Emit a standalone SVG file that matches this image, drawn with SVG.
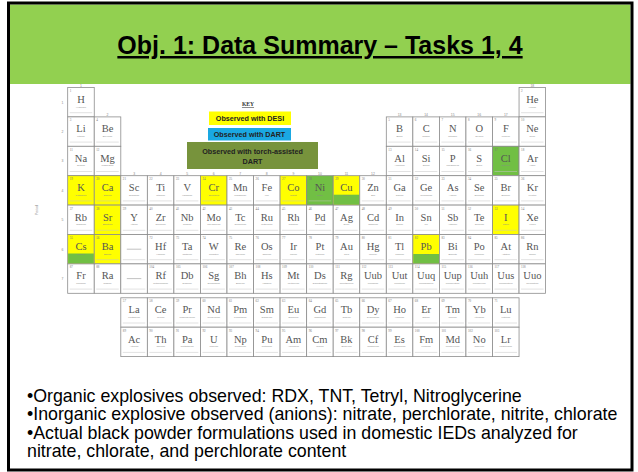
<svg xmlns="http://www.w3.org/2000/svg" xmlns:xlink="http://www.w3.org/1999/xlink" width="638" height="472" viewBox="0 0 638 472">
  <style>
    .w{fill:#fff}
    .y{fill:#ffff00}
    .g{fill:#71bf44}
    .gf{fill:#71bf44}
    .n{font:3.2px "Liberation Serif",serif;fill:#777}
    .s{font:10.5px "Liberation Serif",serif;fill:#555;text-anchor:middle}
    .nm{font:2.3px "Liberation Sans",sans-serif;fill:#8a8a8a;text-anchor:middle}
    .lab{font:3.4px "Liberation Sans",sans-serif;fill:#888;text-anchor:middle}
    .title{font:bold 25px "Liberation Sans",Arial,sans-serif;fill:#000;text-anchor:middle;text-decoration:underline}
    .t{font:17.8px "Liberation Sans",Arial,sans-serif;fill:#000}
    .k{font:bold 7.2px "Liberation Sans",Arial,sans-serif;fill:#222;text-anchor:middle}
    .kh{font:bold 5.6px "Liberation Serif",serif;fill:#333;text-anchor:middle;text-decoration:underline}
  </style>
  <defs>
    <!-- one periodic-table cell: frame plus the faint data rule near the bottom -->
    <g id="cell">
      <rect width="26.55" height="29.4" stroke="#8c8c8c" stroke-width="0.8"/>
      <path d="M2 25.2h22.5" stroke="#c4c4c4" stroke-width="0.5" fill="none"/>
    </g>
  </defs>

  <!-- slide frame and title band -->
  <rect x="0" y="0" width="638" height="472" fill="#fff"/>
  <g id="title">
    <rect x="10" y="4.5" width="620.5" height="79.5" fill="#92d050"/>
    <text class="title" x="320" y="54">Obj. 1: Data Summary – Tasks 1, 4</text>
  </g>

  <!-- key -->
  <g id="key">
    <text class="kh" x="248" y="106">KEY</text>
    <rect x="209" y="111.5" width="82" height="13.5" fill="#ffff00"/>
    <text class="k" x="250" y="121">Observed with DESI</text>
    <rect x="208" y="128" width="83" height="12.5" fill="#1aa8e2"/>
    <text class="k" x="249.5" y="137">Observed with DART</text>
    <rect x="187" y="142" width="131" height="27" fill="#77933c"/>
    <text class="k" x="252.5" y="153.5">Observed with torch-assisted</text>
    <text class="k" x="252.5" y="163.5">DART</text>
  </g>

  <!-- axis labels -->
  <g id="axis">
    <text class="lab" transform="translate(38,210) rotate(-90)">Period</text>
    <text class="lab" x="62.5" y="103.5">1</text>
    <text class="lab" x="62.5" y="132.9">2</text>
    <text class="lab" x="62.5" y="162.3">3</text>
    <text class="lab" x="62.5" y="191.7">4</text>
    <text class="lab" x="62.5" y="221.1">5</text>
    <text class="lab" x="62.5" y="250.5">6</text>
    <text class="lab" x="62.5" y="279.9">7</text>
    <text class="lab" x="81" y="86.5">1</text>
    <text class="lab" x="107.5" y="115.9">2</text>
    <text class="lab" x="134.1" y="174.7">3</text>
    <text class="lab" x="160.6" y="174.7">4</text>
    <text class="lab" x="187.2" y="174.7">5</text>
    <text class="lab" x="213.7" y="174.7">6</text>
    <text class="lab" x="240.3" y="174.7">7</text>
    <text class="lab" x="266.8" y="174.7">8</text>
    <text class="lab" x="293.4" y="174.7">9</text>
    <text class="lab" x="319.9" y="174.7">10</text>
    <text class="lab" x="346.5" y="174.7">11</text>
    <text class="lab" x="373" y="174.7">12</text>
    <text class="lab" x="399.6" y="115.9">13</text>
    <text class="lab" x="426.1" y="115.9">14</text>
    <text class="lab" x="452.7" y="115.9">15</text>
    <text class="lab" x="479.2" y="115.9">16</text>
    <text class="lab" x="505.8" y="115.9">17</text>
    <text class="lab" x="532.3" y="86.5">18</text>
  </g>

  <!-- main table -->
  <g id="table">
    <!-- period 1 -->
    <g id="el-H" class="w" transform="translate(67.7,87.5)"><use href="#cell"/><text class="n" x="2" y="4.6">1</text><text class="s" x="13.3" y="15.5">H</text><text class="nm" x="13.3" y="20">Hydrogen</text></g>
    <g id="el-He" class="w" transform="translate(519.05,87.5)"><use href="#cell"/><text class="n" x="2" y="4.6">2</text><text class="s" x="13.3" y="15.5">He</text><text class="nm" x="13.3" y="20">Helium</text></g>
    <!-- period 2 -->
    <g id="el-Li" class="w" transform="translate(67.7,116.9)"><use href="#cell"/><text class="n" x="2" y="4.6">3</text><text class="s" x="13.3" y="15.5">Li</text><text class="nm" x="13.3" y="20">Lithium</text></g>
    <g id="el-Be" class="w" transform="translate(94.25,116.9)"><use href="#cell"/><text class="n" x="2" y="4.6">4</text><text class="s" x="13.3" y="15.5">Be</text><text class="nm" x="13.3" y="20">Beryllium</text></g>
    <g id="el-B" class="w" transform="translate(386.3,116.9)"><use href="#cell"/><text class="n" x="2" y="4.6">5</text><text class="s" x="13.3" y="15.5">B</text><text class="nm" x="13.3" y="20">Boron</text></g>
    <g id="el-C" class="w" transform="translate(412.85,116.9)"><use href="#cell"/><text class="n" x="2" y="4.6">6</text><text class="s" x="13.3" y="15.5">C</text><text class="nm" x="13.3" y="20">Carbon</text></g>
    <g id="el-N" class="w" transform="translate(439.4,116.9)"><use href="#cell"/><text class="n" x="2" y="4.6">7</text><text class="s" x="13.3" y="15.5">N</text><text class="nm" x="13.3" y="20">Nitrogen</text></g>
    <g id="el-O" class="w" transform="translate(465.95,116.9)"><use href="#cell"/><text class="n" x="2" y="4.6">8</text><text class="s" x="13.3" y="15.5">O</text><text class="nm" x="13.3" y="20">Oxygen</text></g>
    <g id="el-F" class="w" transform="translate(492.5,116.9)"><use href="#cell"/><text class="n" x="2" y="4.6">9</text><text class="s" x="13.3" y="15.5">F</text><text class="nm" x="13.3" y="20">Fluorine</text></g>
    <g id="el-Ne" class="w" transform="translate(519.05,116.9)"><use href="#cell"/><text class="n" x="2" y="4.6">10</text><text class="s" x="13.3" y="15.5">Ne</text><text class="nm" x="13.3" y="20">Neon</text></g>
    <!-- period 3 -->
    <g id="el-Na" class="w" transform="translate(67.7,146.3)"><use href="#cell"/><text class="n" x="2" y="4.6">11</text><text class="s" x="13.3" y="15.5">Na</text><text class="nm" x="13.3" y="20">Sodium</text></g>
    <g id="el-Mg" class="w" transform="translate(94.25,146.3)"><use href="#cell"/><text class="n" x="2" y="4.6">12</text><text class="s" x="13.3" y="15.5">Mg</text><text class="nm" x="13.3" y="20">Magnesium</text></g>
    <g id="el-Al" class="w" transform="translate(386.3,146.3)"><use href="#cell"/><text class="n" x="2" y="4.6">13</text><text class="s" x="13.3" y="15.5">Al</text><text class="nm" x="13.3" y="20">Aluminum</text></g>
    <g id="el-Si" class="w" transform="translate(412.85,146.3)"><use href="#cell"/><text class="n" x="2" y="4.6">14</text><text class="s" x="13.3" y="15.5">Si</text><text class="nm" x="13.3" y="20">Silicon</text></g>
    <g id="el-P" class="w" transform="translate(439.4,146.3)"><use href="#cell"/><text class="n" x="2" y="4.6">15</text><text class="s" x="13.3" y="15.5">P</text><text class="nm" x="13.3" y="20">Phosphorus</text></g>
    <g id="el-S" class="w" transform="translate(465.95,146.3)"><use href="#cell"/><text class="n" x="2" y="4.6">16</text><text class="s" x="13.3" y="15.5">S</text><text class="nm" x="13.3" y="20">Sulfur</text></g>
    <g id="el-Cl" class="g" transform="translate(492.5,146.3)"><use href="#cell"/><text class="n" x="2" y="4.6">17</text><text class="s" x="13.3" y="15.5">Cl</text><text class="nm" x="13.3" y="20">Chlorine</text></g>
    <g id="el-Ar" class="w" transform="translate(519.05,146.3)"><use href="#cell"/><text class="n" x="2" y="4.6">18</text><text class="s" x="13.3" y="15.5">Ar</text><text class="nm" x="13.3" y="20">Argon</text></g>
    <!-- period 4 -->
    <g id="el-K" class="y" transform="translate(67.7,175.7)"><use href="#cell"/><text class="n" x="2" y="4.6">19</text><text class="s" x="13.3" y="15.5">K</text><text class="nm" x="13.3" y="20">Potassium</text></g>
    <g id="el-Ca" class="y" transform="translate(94.25,175.7)"><use href="#cell"/><text class="n" x="2" y="4.6">20</text><text class="s" x="13.3" y="15.5">Ca</text><text class="nm" x="13.3" y="20">Calcium</text></g>
    <g id="el-Sc" class="w" transform="translate(120.8,175.7)"><use href="#cell"/><text class="n" x="2" y="4.6">21</text><text class="s" x="13.3" y="15.5">Sc</text><text class="nm" x="13.3" y="20">Scandium</text></g>
    <g id="el-Ti" class="w" transform="translate(147.35,175.7)"><use href="#cell"/><text class="n" x="2" y="4.6">22</text><text class="s" x="13.3" y="15.5">Ti</text><text class="nm" x="13.3" y="20">Titanium</text></g>
    <g id="el-V" class="w" transform="translate(173.9,175.7)"><use href="#cell"/><text class="n" x="2" y="4.6">23</text><text class="s" x="13.3" y="15.5">V</text><text class="nm" x="13.3" y="20">Vanadium</text></g>
    <g id="el-Cr" class="y" transform="translate(200.45,175.7)"><use href="#cell"/><text class="n" x="2" y="4.6">24</text><text class="s" x="13.3" y="15.5">Cr</text><text class="nm" x="13.3" y="20">Chromium</text></g>
    <g id="el-Mn" class="w" transform="translate(227,175.7)"><use href="#cell"/><text class="n" x="2" y="4.6">25</text><text class="s" x="13.3" y="15.5">Mn</text><text class="nm" x="13.3" y="20">Manganese</text></g>
    <g id="el-Fe" class="w" transform="translate(253.55,175.7)"><use href="#cell"/><text class="n" x="2" y="4.6">26</text><text class="s" x="13.3" y="15.5">Fe</text><text class="nm" x="13.3" y="20">Iron</text></g>
    <g id="el-Co" class="y" transform="translate(280.1,175.7)"><use href="#cell"/><text class="n" x="2" y="4.6">27</text><text class="s" x="13.3" y="15.5">Co</text><text class="nm" x="13.3" y="20">Cobalt</text></g>
    <g id="el-Ni" class="g" transform="translate(306.65,175.7)"><use href="#cell"/><text class="n" x="2" y="4.6">28</text><text class="s" x="13.3" y="15.5">Ni</text><text class="nm" x="13.3" y="20">Nickel</text></g>
    <g id="el-Cu" class="y" transform="translate(333.2,175.7)"><use href="#cell"/><rect class="gf" x="0.4" y="19" width="25.75" height="10"/><text class="n" x="2" y="4.6">29</text><text class="s" x="13.3" y="15.5">Cu</text><text class="nm" x="13.3" y="20">Copper</text></g>
    <g id="el-Zn" class="w" transform="translate(359.75,175.7)"><use href="#cell"/><text class="n" x="2" y="4.6">30</text><text class="s" x="13.3" y="15.5">Zn</text><text class="nm" x="13.3" y="20">Zinc</text></g>
    <g id="el-Ga" class="w" transform="translate(386.3,175.7)"><use href="#cell"/><text class="n" x="2" y="4.6">31</text><text class="s" x="13.3" y="15.5">Ga</text><text class="nm" x="13.3" y="20">Gallium</text></g>
    <g id="el-Ge" class="w" transform="translate(412.85,175.7)"><use href="#cell"/><text class="n" x="2" y="4.6">32</text><text class="s" x="13.3" y="15.5">Ge</text><text class="nm" x="13.3" y="20">Germanium</text></g>
    <g id="el-As" class="w" transform="translate(439.4,175.7)"><use href="#cell"/><text class="n" x="2" y="4.6">33</text><text class="s" x="13.3" y="15.5">As</text><text class="nm" x="13.3" y="20">Arsenic</text></g>
    <g id="el-Se" class="w" transform="translate(465.95,175.7)"><use href="#cell"/><text class="n" x="2" y="4.6">34</text><text class="s" x="13.3" y="15.5">Se</text><text class="nm" x="13.3" y="20">Selenium</text></g>
    <g id="el-Br" class="w" transform="translate(492.5,175.7)"><use href="#cell"/><text class="n" x="2" y="4.6">35</text><text class="s" x="13.3" y="15.5">Br</text><text class="nm" x="13.3" y="20">Bromine</text></g>
    <g id="el-Kr" class="w" transform="translate(519.05,175.7)"><use href="#cell"/><text class="n" x="2" y="4.6">36</text><text class="s" x="13.3" y="15.5">Kr</text><text class="nm" x="13.3" y="20">Krypton</text></g>
    <!-- period 5 -->
    <g id="el-Rb" class="w" transform="translate(67.7,205.1)"><use href="#cell"/><text class="n" x="2" y="4.6">37</text><text class="s" x="13.3" y="15.5">Rb</text><text class="nm" x="13.3" y="20">Rubidium</text></g>
    <g id="el-Sr" class="y" transform="translate(94.25,205.1)"><use href="#cell"/><text class="n" x="2" y="4.6">38</text><text class="s" x="13.3" y="15.5">Sr</text><text class="nm" x="13.3" y="20">Strontium</text></g>
    <g id="el-Y" class="w" transform="translate(120.8,205.1)"><use href="#cell"/><text class="n" x="2" y="4.6">39</text><text class="s" x="13.3" y="15.5">Y</text><text class="nm" x="13.3" y="20">Yttrium</text></g>
    <g id="el-Zr" class="w" transform="translate(147.35,205.1)"><use href="#cell"/><text class="n" x="2" y="4.6">40</text><text class="s" x="13.3" y="15.5">Zr</text><text class="nm" x="13.3" y="20">Zirconium</text></g>
    <g id="el-Nb" class="w" transform="translate(173.9,205.1)"><use href="#cell"/><text class="n" x="2" y="4.6">41</text><text class="s" x="13.3" y="15.5">Nb</text><text class="nm" x="13.3" y="20">Niobium</text></g>
    <g id="el-Mo" class="w" transform="translate(200.45,205.1)"><use href="#cell"/><text class="n" x="2" y="4.6">42</text><text class="s" x="13.3" y="15.5">Mo</text><text class="nm" x="13.3" y="20">Molybdenum</text></g>
    <g id="el-Tc" class="w" transform="translate(227,205.1)"><use href="#cell"/><text class="n" x="2" y="4.6">43</text><text class="s" x="13.3" y="15.5">Tc</text><text class="nm" x="13.3" y="20">Technetium</text></g>
    <g id="el-Ru" class="w" transform="translate(253.55,205.1)"><use href="#cell"/><text class="n" x="2" y="4.6">44</text><text class="s" x="13.3" y="15.5">Ru</text><text class="nm" x="13.3" y="20">Ruthenium</text></g>
    <g id="el-Rh" class="w" transform="translate(280.1,205.1)"><use href="#cell"/><text class="n" x="2" y="4.6">45</text><text class="s" x="13.3" y="15.5">Rh</text><text class="nm" x="13.3" y="20">Rhodium</text></g>
    <g id="el-Pd" class="w" transform="translate(306.65,205.1)"><use href="#cell"/><text class="n" x="2" y="4.6">46</text><text class="s" x="13.3" y="15.5">Pd</text><text class="nm" x="13.3" y="20">Palladium</text></g>
    <g id="el-Ag" class="w" transform="translate(333.2,205.1)"><use href="#cell"/><text class="n" x="2" y="4.6">47</text><text class="s" x="13.3" y="15.5">Ag</text><text class="nm" x="13.3" y="20">Silver</text></g>
    <g id="el-Cd" class="w" transform="translate(359.75,205.1)"><use href="#cell"/><text class="n" x="2" y="4.6">48</text><text class="s" x="13.3" y="15.5">Cd</text><text class="nm" x="13.3" y="20">Cadmium</text></g>
    <g id="el-In" class="w" transform="translate(386.3,205.1)"><use href="#cell"/><text class="n" x="2" y="4.6">49</text><text class="s" x="13.3" y="15.5">In</text><text class="nm" x="13.3" y="20">Indium</text></g>
    <g id="el-Sn" class="w" transform="translate(412.85,205.1)"><use href="#cell"/><text class="n" x="2" y="4.6">50</text><text class="s" x="13.3" y="15.5">Sn</text><text class="nm" x="13.3" y="20">Tin</text></g>
    <g id="el-Sb" class="w" transform="translate(439.4,205.1)"><use href="#cell"/><text class="n" x="2" y="4.6">51</text><text class="s" x="13.3" y="15.5">Sb</text><text class="nm" x="13.3" y="20">Antimony</text></g>
    <g id="el-Te" class="w" transform="translate(465.95,205.1)"><use href="#cell"/><text class="n" x="2" y="4.6">52</text><text class="s" x="13.3" y="15.5">Te</text><text class="nm" x="13.3" y="20">Tellurium</text></g>
    <g id="el-I" class="y" transform="translate(492.5,205.1)"><use href="#cell"/><text class="n" x="2" y="4.6">53</text><text class="s" x="13.3" y="15.5">I</text><text class="nm" x="13.3" y="20">Iodine</text></g>
    <g id="el-Xe" class="w" transform="translate(519.05,205.1)"><use href="#cell"/><text class="n" x="2" y="4.6">54</text><text class="s" x="13.3" y="15.5">Xe</text><text class="nm" x="13.3" y="20">Xenon</text></g>
    <!-- period 6 -->
    <g id="el-Cs" class="y" transform="translate(67.7,234.5)"><use href="#cell"/><rect class="gf" x="0.4" y="19" width="25.75" height="10"/><text class="n" x="2" y="4.6">55</text><text class="s" x="13.3" y="15.5">Cs</text><text class="nm" x="13.3" y="20">Cesium</text></g>
    <g id="el-Ba" class="y" transform="translate(94.25,234.5)"><use href="#cell"/><text class="n" x="2" y="4.6">56</text><text class="s" x="13.3" y="15.5">Ba</text><text class="nm" x="13.3" y="20">Barium</text></g>
    <g id="gap-6" class="w" transform="translate(120.8,234.5)"><use href="#cell"/><path d="M6 14.7h14.5" stroke="#999" stroke-width="0.6"/></g>
    <g id="el-Hf" class="w" transform="translate(147.35,234.5)"><use href="#cell"/><text class="n" x="2" y="4.6">72</text><text class="s" x="13.3" y="15.5">Hf</text><text class="nm" x="13.3" y="20">Hafnium</text></g>
    <g id="el-Ta" class="w" transform="translate(173.9,234.5)"><use href="#cell"/><text class="n" x="2" y="4.6">73</text><text class="s" x="13.3" y="15.5">Ta</text><text class="nm" x="13.3" y="20">Tantalum</text></g>
    <g id="el-W" class="w" transform="translate(200.45,234.5)"><use href="#cell"/><text class="n" x="2" y="4.6">74</text><text class="s" x="13.3" y="15.5">W</text><text class="nm" x="13.3" y="20">Tungsten</text></g>
    <g id="el-Re" class="w" transform="translate(227,234.5)"><use href="#cell"/><text class="n" x="2" y="4.6">75</text><text class="s" x="13.3" y="15.5">Re</text><text class="nm" x="13.3" y="20">Rhenium</text></g>
    <g id="el-Os" class="w" transform="translate(253.55,234.5)"><use href="#cell"/><text class="n" x="2" y="4.6">76</text><text class="s" x="13.3" y="15.5">Os</text><text class="nm" x="13.3" y="20">Osmium</text></g>
    <g id="el-Ir" class="w" transform="translate(280.1,234.5)"><use href="#cell"/><text class="n" x="2" y="4.6">77</text><text class="s" x="13.3" y="15.5">Ir</text><text class="nm" x="13.3" y="20">Iridium</text></g>
    <g id="el-Pt" class="w" transform="translate(306.65,234.5)"><use href="#cell"/><text class="n" x="2" y="4.6">78</text><text class="s" x="13.3" y="15.5">Pt</text><text class="nm" x="13.3" y="20">Platinum</text></g>
    <g id="el-Au" class="w" transform="translate(333.2,234.5)"><use href="#cell"/><text class="n" x="2" y="4.6">79</text><text class="s" x="13.3" y="15.5">Au</text><text class="nm" x="13.3" y="20">Gold</text></g>
    <g id="el-Hg" class="w" transform="translate(359.75,234.5)"><use href="#cell"/><text class="n" x="2" y="4.6">80</text><text class="s" x="13.3" y="15.5">Hg</text><text class="nm" x="13.3" y="20">Mercury</text></g>
    <g id="el-Tl" class="w" transform="translate(386.3,234.5)"><use href="#cell"/><text class="n" x="2" y="4.6">81</text><text class="s" x="13.3" y="15.5">Tl</text><text class="nm" x="13.3" y="20">Thallium</text></g>
    <g id="el-Pb" class="y" transform="translate(412.85,234.5)"><use href="#cell"/><rect class="gf" x="0.4" y="19.5" width="25.75" height="9.5"/><text class="n" x="2" y="4.6">82</text><text class="s" x="13.3" y="15.5">Pb</text><text class="nm" x="13.3" y="20">Lead</text></g>
    <g id="el-Bi" class="w" transform="translate(439.4,234.5)"><use href="#cell"/><text class="n" x="2" y="4.6">83</text><text class="s" x="13.3" y="15.5">Bi</text><text class="nm" x="13.3" y="20">Bismuth</text></g>
    <g id="el-Po" class="w" transform="translate(465.95,234.5)"><use href="#cell"/><text class="n" x="2" y="4.6">84</text><text class="s" x="13.3" y="15.5">Po</text><text class="nm" x="13.3" y="20">Polonium</text></g>
    <g id="el-At" class="w" transform="translate(492.5,234.5)"><use href="#cell"/><text class="n" x="2" y="4.6">85</text><text class="s" x="13.3" y="15.5">At</text><text class="nm" x="13.3" y="20">Astatine</text></g>
    <g id="el-Rn" class="w" transform="translate(519.05,234.5)"><use href="#cell"/><text class="n" x="2" y="4.6">86</text><text class="s" x="13.3" y="15.5">Rn</text><text class="nm" x="13.3" y="20">Radon</text></g>
    <!-- period 7 -->
    <g id="el-Fr" class="w" transform="translate(67.7,263.9)"><use href="#cell"/><text class="n" x="2" y="4.6">87</text><text class="s" x="13.3" y="15.5">Fr</text><text class="nm" x="13.3" y="20">Francium</text></g>
    <g id="el-Ra" class="w" transform="translate(94.25,263.9)"><use href="#cell"/><text class="n" x="2" y="4.6">88</text><text class="s" x="13.3" y="15.5">Ra</text><text class="nm" x="13.3" y="20">Radium</text></g>
    <g id="gap-7" class="w" transform="translate(120.8,263.9)"><use href="#cell"/><path d="M6 14.7h14.5" stroke="#999" stroke-width="0.6"/></g>
    <g id="el-Rf" class="w" transform="translate(147.35,263.9)"><use href="#cell"/><text class="n" x="2" y="4.6">104</text><text class="s" x="13.3" y="15.5">Rf</text><text class="nm" x="13.3" y="20">Rutherfordium</text></g>
    <g id="el-Db" class="w" transform="translate(173.9,263.9)"><use href="#cell"/><text class="n" x="2" y="4.6">105</text><text class="s" x="13.3" y="15.5">Db</text><text class="nm" x="13.3" y="20">Dubnium</text></g>
    <g id="el-Sg" class="w" transform="translate(200.45,263.9)"><use href="#cell"/><text class="n" x="2" y="4.6">106</text><text class="s" x="13.3" y="15.5">Sg</text><text class="nm" x="13.3" y="20">Seaborgium</text></g>
    <g id="el-Bh" class="w" transform="translate(227,263.9)"><use href="#cell"/><text class="n" x="2" y="4.6">107</text><text class="s" x="13.3" y="15.5">Bh</text><text class="nm" x="13.3" y="20">Bohrium</text></g>
    <g id="el-Hs" class="w" transform="translate(253.55,263.9)"><use href="#cell"/><text class="n" x="2" y="4.6">108</text><text class="s" x="13.3" y="15.5">Hs</text><text class="nm" x="13.3" y="20">Hassium</text></g>
    <g id="el-Mt" class="w" transform="translate(280.1,263.9)"><use href="#cell"/><text class="n" x="2" y="4.6">109</text><text class="s" x="13.3" y="15.5">Mt</text><text class="nm" x="13.3" y="20">Meitnerium</text></g>
    <g id="el-Ds" class="w" transform="translate(306.65,263.9)"><use href="#cell"/><text class="n" x="2" y="4.6">110</text><text class="s" x="13.3" y="15.5">Ds</text><text class="nm" x="13.3" y="20">Darmstadtium</text></g>
    <g id="el-Rg" class="w" transform="translate(333.2,263.9)"><use href="#cell"/><text class="n" x="2" y="4.6">111</text><text class="s" x="13.3" y="15.5">Rg</text><text class="nm" x="13.3" y="20">Roentgenium</text></g>
    <g id="el-Uub" class="w" transform="translate(359.75,263.9)"><use href="#cell"/><text class="n" x="2" y="4.6">112</text><text class="s" x="13.3" y="15.5">Uub</text><text class="nm" x="13.3" y="20">Ununbium</text></g>
    <g id="el-Uut" class="w" transform="translate(386.3,263.9)"><use href="#cell"/><text class="n" x="2" y="4.6">113</text><text class="s" x="13.3" y="15.5">Uut</text><text class="nm" x="13.3" y="20">Ununtrium</text></g>
    <g id="el-Uuq" class="w" transform="translate(412.85,263.9)"><use href="#cell"/><text class="n" x="2" y="4.6">114</text><text class="s" x="13.3" y="15.5">Uuq</text><text class="nm" x="13.3" y="20">Ununquadium</text></g>
    <g id="el-Uup" class="w" transform="translate(439.4,263.9)"><use href="#cell"/><text class="n" x="2" y="4.6">115</text><text class="s" x="13.3" y="15.5">Uup</text><text class="nm" x="13.3" y="20">Ununpentium</text></g>
    <g id="el-Uuh" class="w" transform="translate(465.95,263.9)"><use href="#cell"/><text class="n" x="2" y="4.6">116</text><text class="s" x="13.3" y="15.5">Uuh</text><text class="nm" x="13.3" y="20">Ununhexium</text></g>
    <g id="el-Uus" class="w" transform="translate(492.5,263.9)"><use href="#cell"/><text class="n" x="2" y="4.6">117</text><text class="s" x="13.3" y="15.5">Uus</text><text class="nm" x="13.3" y="20">Ununseptium</text></g>
    <g id="el-Uuo" class="w" transform="translate(519.05,263.9)"><use href="#cell"/><text class="n" x="2" y="4.6">118</text><text class="s" x="13.3" y="15.5">Uuo</text><text class="nm" x="13.3" y="20">Ununoctium</text></g>
  </g>

  <!-- lanthanide and actinide rows -->
  <g id="f-block">
    <g id="el-La" class="w" transform="translate(120.8,297.8)"><use href="#cell"/><text class="n" x="2" y="4.6">57</text><text class="s" x="13.3" y="15.5">La</text><text class="nm" x="13.3" y="20">Lanthanum</text></g>
    <g id="el-Ce" class="w" transform="translate(147.35,297.8)"><use href="#cell"/><text class="n" x="2" y="4.6">58</text><text class="s" x="13.3" y="15.5">Ce</text><text class="nm" x="13.3" y="20">Cerium</text></g>
    <g id="el-Pr" class="w" transform="translate(173.9,297.8)"><use href="#cell"/><text class="n" x="2" y="4.6">59</text><text class="s" x="13.3" y="15.5">Pr</text><text class="nm" x="13.3" y="20">Praseodymium</text></g>
    <g id="el-Nd" class="w" transform="translate(200.45,297.8)"><use href="#cell"/><text class="n" x="2" y="4.6">60</text><text class="s" x="13.3" y="15.5">Nd</text><text class="nm" x="13.3" y="20">Neodymium</text></g>
    <g id="el-Pm" class="w" transform="translate(227,297.8)"><use href="#cell"/><text class="n" x="2" y="4.6">61</text><text class="s" x="13.3" y="15.5">Pm</text><text class="nm" x="13.3" y="20">Promethium</text></g>
    <g id="el-Sm" class="w" transform="translate(253.55,297.8)"><use href="#cell"/><text class="n" x="2" y="4.6">62</text><text class="s" x="13.3" y="15.5">Sm</text><text class="nm" x="13.3" y="20">Samarium</text></g>
    <g id="el-Eu" class="w" transform="translate(280.1,297.8)"><use href="#cell"/><text class="n" x="2" y="4.6">63</text><text class="s" x="13.3" y="15.5">Eu</text><text class="nm" x="13.3" y="20">Europium</text></g>
    <g id="el-Gd" class="w" transform="translate(306.65,297.8)"><use href="#cell"/><text class="n" x="2" y="4.6">64</text><text class="s" x="13.3" y="15.5">Gd</text><text class="nm" x="13.3" y="20">Gadolinium</text></g>
    <g id="el-Tb" class="w" transform="translate(333.2,297.8)"><use href="#cell"/><text class="n" x="2" y="4.6">65</text><text class="s" x="13.3" y="15.5">Tb</text><text class="nm" x="13.3" y="20">Terbium</text></g>
    <g id="el-Dy" class="w" transform="translate(359.75,297.8)"><use href="#cell"/><text class="n" x="2" y="4.6">66</text><text class="s" x="13.3" y="15.5">Dy</text><text class="nm" x="13.3" y="20">Dysprosium</text></g>
    <g id="el-Ho" class="w" transform="translate(386.3,297.8)"><use href="#cell"/><text class="n" x="2" y="4.6">67</text><text class="s" x="13.3" y="15.5">Ho</text><text class="nm" x="13.3" y="20">Holmium</text></g>
    <g id="el-Er" class="w" transform="translate(412.85,297.8)"><use href="#cell"/><text class="n" x="2" y="4.6">68</text><text class="s" x="13.3" y="15.5">Er</text><text class="nm" x="13.3" y="20">Erbium</text></g>
    <g id="el-Tm" class="w" transform="translate(439.4,297.8)"><use href="#cell"/><text class="n" x="2" y="4.6">69</text><text class="s" x="13.3" y="15.5">Tm</text><text class="nm" x="13.3" y="20">Thulium</text></g>
    <g id="el-Yb" class="w" transform="translate(465.95,297.8)"><use href="#cell"/><text class="n" x="2" y="4.6">70</text><text class="s" x="13.3" y="15.5">Yb</text><text class="nm" x="13.3" y="20">Ytterbium</text></g>
    <g id="el-Lu" class="w" transform="translate(492.5,297.8)"><use href="#cell"/><text class="n" x="2" y="4.6">71</text><text class="s" x="13.3" y="15.5">Lu</text><text class="nm" x="13.3" y="20">Lutetium</text></g>
    <g id="el-Ac" class="w" transform="translate(120.8,327.2)"><use href="#cell"/><text class="n" x="2" y="4.6">89</text><text class="s" x="13.3" y="15.5">Ac</text><text class="nm" x="13.3" y="20">Actinium</text></g>
    <g id="el-Th" class="w" transform="translate(147.35,327.2)"><use href="#cell"/><text class="n" x="2" y="4.6">90</text><text class="s" x="13.3" y="15.5">Th</text><text class="nm" x="13.3" y="20">Thorium</text></g>
    <g id="el-Pa" class="w" transform="translate(173.9,327.2)"><use href="#cell"/><text class="n" x="2" y="4.6">91</text><text class="s" x="13.3" y="15.5">Pa</text><text class="nm" x="13.3" y="20">Protactinium</text></g>
    <g id="el-U" class="w" transform="translate(200.45,327.2)"><use href="#cell"/><text class="n" x="2" y="4.6">92</text><text class="s" x="13.3" y="15.5">U</text><text class="nm" x="13.3" y="20">Uranium</text></g>
    <g id="el-Np" class="w" transform="translate(227,327.2)"><use href="#cell"/><text class="n" x="2" y="4.6">93</text><text class="s" x="13.3" y="15.5">Np</text><text class="nm" x="13.3" y="20">Neptunium</text></g>
    <g id="el-Pu" class="w" transform="translate(253.55,327.2)"><use href="#cell"/><text class="n" x="2" y="4.6">94</text><text class="s" x="13.3" y="15.5">Pu</text><text class="nm" x="13.3" y="20">Plutonium</text></g>
    <g id="el-Am" class="w" transform="translate(280.1,327.2)"><use href="#cell"/><text class="n" x="2" y="4.6">95</text><text class="s" x="13.3" y="15.5">Am</text><text class="nm" x="13.3" y="20">Americium</text></g>
    <g id="el-Cm" class="w" transform="translate(306.65,327.2)"><use href="#cell"/><text class="n" x="2" y="4.6">96</text><text class="s" x="13.3" y="15.5">Cm</text><text class="nm" x="13.3" y="20">Curium</text></g>
    <g id="el-Bk" class="w" transform="translate(333.2,327.2)"><use href="#cell"/><text class="n" x="2" y="4.6">97</text><text class="s" x="13.3" y="15.5">Bk</text><text class="nm" x="13.3" y="20">Berkelium</text></g>
    <g id="el-Cf" class="w" transform="translate(359.75,327.2)"><use href="#cell"/><text class="n" x="2" y="4.6">98</text><text class="s" x="13.3" y="15.5">Cf</text><text class="nm" x="13.3" y="20">Californium</text></g>
    <g id="el-Es" class="w" transform="translate(386.3,327.2)"><use href="#cell"/><text class="n" x="2" y="4.6">99</text><text class="s" x="13.3" y="15.5">Es</text><text class="nm" x="13.3" y="20">Einsteinium</text></g>
    <g id="el-Fm" class="w" transform="translate(412.85,327.2)"><use href="#cell"/><text class="n" x="2" y="4.6">100</text><text class="s" x="13.3" y="15.5">Fm</text><text class="nm" x="13.3" y="20">Fermium</text></g>
    <g id="el-Md" class="w" transform="translate(439.4,327.2)"><use href="#cell"/><text class="n" x="2" y="4.6">101</text><text class="s" x="13.3" y="15.5">Md</text><text class="nm" x="13.3" y="20">Mendelevium</text></g>
    <g id="el-No" class="w" transform="translate(465.95,327.2)"><use href="#cell"/><text class="n" x="2" y="4.6">102</text><text class="s" x="13.3" y="15.5">No</text><text class="nm" x="13.3" y="20">Nobelium</text></g>
    <g id="el-Lr" class="w" transform="translate(492.5,327.2)"><use href="#cell"/><text class="n" x="2" y="4.6">103</text><text class="s" x="13.3" y="15.5">Lr</text><text class="nm" x="13.3" y="20">Lawrencium</text></g>
  </g>

  <!-- notes -->
  <g id="notes">
    <text class="t" x="27" y="401.5">•Organic explosives observed: RDX, TNT, Tetryl, Nitroglycerine</text>
    <text class="t" x="27" y="420">•Inorganic explosive observed (anions): nitrate, perchlorate, nitrite, chlorate</text>
    <text class="t" x="27" y="438.5">•Actual black powder formulations used in domestic IEDs analyzed for</text>
    <text class="t" x="27" y="457">nitrate, chlorate, and perchlorate content</text>
  </g>

  <!-- outer border -->
  <rect x="8.5" y="3" width="623.5" height="467" fill="none" stroke="#000" stroke-width="3"/>
</svg>
